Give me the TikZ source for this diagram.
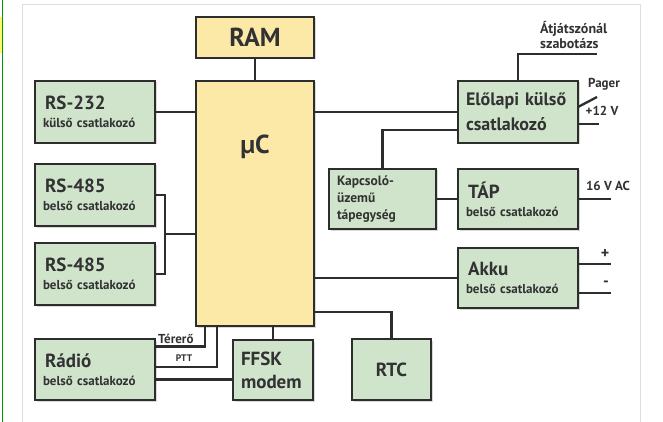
\documentclass[tikz,border=0pt]{standalone}
\usepackage{fontspec}
\setmainfont{PT Sans}
\usetikzlibrary{positioning}
\usetikzlibrary{calc, shadows}
\definecolor{boxGreen}{RGB}{207,228,203}
\definecolor{boxYellow}{RGB}{252,233,168}
\definecolor{wireGray}{RGB}{45,45,45}
\definecolor{textGray}{RGB}{50,50,50}
\definecolor{frameGray}{RGB}{222,222,222}
\newcommand{\boxhead}{\fontsize{19pt}{21pt}\selectfont}
\newcommand{\boxsub}{\bfseries\fontsize{13pt}{18pt}\selectfont}
\hyphenpenalty=10000
\exhyphenpenalty=10000
\tikzset{%
	% Specifications for style of nodes:
	base/.style = {rectangle, draw=wireGray, line width=2.8pt, outer sep=0pt,
		inner xsep=10pt, inner ysep=3pt, anchor=north west, text=textGray,
		drop shadow={shadow xshift=1.5pt, shadow yshift=-1.5pt, opacity=0.3}},
	module/.style = {base, fill=boxGreen, align=left, text width=104pt,
		inner xsep=8pt, minimum height=62pt, font=\boxsub},
	chip/.style = {base, fill=boxYellow, align=center, minimum width=118pt},
	wire/.style = {draw=wireGray, line width=2.3pt},
	pin/.style = {text=textGray, inner sep=1pt, font=\bfseries\fontsize{13pt}{15pt}\selectfont}
}

\begin{document}
\begin{tikzpicture}[x=1pt, y=-1pt]
	\useasboundingbox (0,0) rectangle (663,422);
	% screen frame
	\fill[yellow!60] (0,17) rectangle (2.5,53);
	\draw[green!60!black, line width=1.5pt] (2.5,0) -- (2.5,422);
	\draw[frameGray, line width=1pt] (22,422) -- (22,5) -- (640,5) -- (640,422);
	% processor and memory
	\node (ram) [chip, minimum height=41pt, font=\bfseries\fontsize{26pt}{30pt}\selectfont] at (196,17) {RAM};
	\node (uc) [chip, minimum height=245pt] at (196,81) {};
	\node (ucLabel) [below=50pt of uc.north, text=textGray, font=\bfseries\fontsize{26pt}{30pt}\selectfont] {µC};
	% left column
	\node (rs232) [module] at (35,81) {\hspace*{2pt}{\boxhead RS-232}\\külső csatlakozó};
	\node (rs485a) [module, below=21pt of rs232] {\hspace*{2pt}{\boxhead RS-485}\\belső csatlakozó};
	\node (rs485b) [module, below=17pt of rs485a] {\hspace*{2pt}{\boxhead RS-485}\\belső csatlakozó};
	\node (radio) [module, minimum height=61pt] at (35,339) {\hspace*{2pt}{\boxhead Rádió}\\belső csatlakozó};
	% bottom row
	\node (ffsk) [module, text width=64pt, minimum height=60pt, font=\bfseries\fontsize{19pt}{23pt}\selectfont] at (233,340) {FFSK\\modem};
	\node (rtc) [module, text width=63pt, align=center, minimum height=61pt] at (352,339) {\boxhead RTC};
	% right column
	\node (front) [module, font=\bfseries\fontsize{18pt}{25pt}\selectfont] at (458,81) {Előlapi külső\\csatlakozó};
	\node (smps) [module, text width=91pt, minimum height=60pt, font=\bfseries\fontsize{13.5pt}{17pt}\selectfont] at (329,169) {Kapcsoló-\\üzemű\\tápegység};
	\node (tap) [module, minimum height=60pt] at (458,169) {\hspace*{2pt}{\boxhead TÁP}\\belső csatlakozó};
	\node (akku) [module, minimum height=60pt, below=19pt of tap] {\hspace*{2pt}{\boxhead Akku}\\belső csatlakozó};
	% connections
	\draw [wire] (ram) -- (uc);
	\draw [wire] (rs232.east) -- (rs232.east -| uc.west);
	\draw [wire] (rs485a.east) -- ++(10,0) |- (rs485b.east);
	\coordinate (busJoint) at (165,234);
	\draw [wire] (busJoint) -- (busJoint -| uc.west);
	\draw [wire] (front.west -| uc.east) -- (front.west);
	\draw [wire] (akku.west -| uc.east) -- (akku.west);
	\draw [wire] (rtc.north) |- ([yshift=-108.5pt]uc.east);
	\draw [wire] (ffsk) -- (ffsk |- uc.south);
	\draw [wire] ([yshift=23pt]radio.east) -| ([xshift=-50pt]uc.south);
	\draw [wire] ([yshift=2.5pt]radio.east) -| ([xshift=-38pt]uc.south);
	\draw [wire] ([yshift=-10pt]radio.east) -- ([yshift=-10pt]radio.east -| ffsk.west);
	\node (terero) [pin, anchor=south west] at (157,345) {Térerő};
	\node (ptt) [pin, font=\bfseries\fontsize{9.5pt}{12pt}\selectfont] at (184,358) {PTT};
	\draw [wire] ([yshift=-18pt]front.west) -| (smps.north);
	\draw [wire] (smps) -- (tap);
	% outside pins
	\coordinate (szabotazs) at (597,54);
	\draw [wire] (front.north) |- (szabotazs);
	\node (szabLabel) [pin, anchor=south west, align=left, font=\bfseries\fontsize{14pt}{15pt}\selectfont] at (539,50) {Átjátszónál\\szabotázs};
	\draw [wire] ([yshift=5pt]front.east) -- ++(19,-10);
	\node (pager) [pin] at (604,84) {Pager};
	\draw [wire] ([yshift=-12pt]front.east) -- ++(21,0);
	\node (plus12) [pin] at (602,111) {+12 V};
	\draw [wire] (tap.east) -- ++(33,0);
	\node (ac) [pin] at (608,186) {16 V AC};
	\draw [wire] ([yshift=14pt]akku.east) -- ++(33,0);
	\draw [wire] ([yshift=-15pt]akku.east) -- ++(33,0);
	\node (plus) [pin, font=\bfseries\fontsize{16pt}{16pt}\selectfont] at (605,254) {+};
	\node (minus) [pin, font=\bfseries\fontsize{16pt}{16pt}\selectfont] at (606,284) {-};
\end{tikzpicture}
\end{document}
